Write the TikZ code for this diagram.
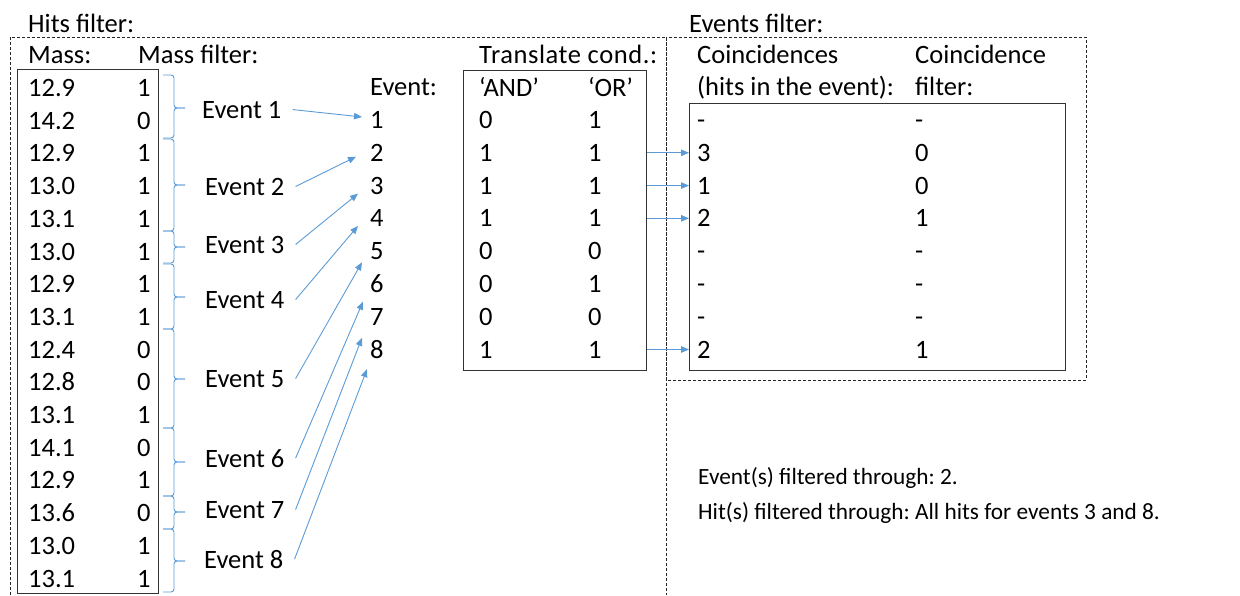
\documentclass[tikz,border=0pt]{standalone}
\usepackage{fontspec}
\setmainfont{Carlito}
\usetikzlibrary{arrows.meta}
\definecolor{linkblue}{RGB}{91,155,213}
\frenchspacing
\begin{document}
\begin{tikzpicture}[x=1pt,y=-1pt,
  txt/.style={anchor=base west,inner sep=0pt,font=\fontsize{26.5}{30}\selectfont},
  small/.style={txt,font=\fontsize{23.3}{27}\selectfont},
  box/.style={draw=black!80,line width=1.2pt,anchor=north west,inner sep=0pt},
  dashbox/.style={draw=black!85,line width=0.9pt,dash pattern=on 3pt off 2pt},
  link/.style={draw=linkblue,line width=0.9pt,-{Triangle[length=8pt,width=6.5pt]}},
  brc/.style={draw=linkblue,line width=0.9pt,rounded corners=3pt}]
\useasboundingbox (0,0) rectangle (1240,595);

% dashed frames of the two filter stages
\draw[dashbox] (10,595) -- (10,37) -- (666,37) -- (666,595);
\draw[dashbox] (666,37) rectangle (1086,380);

% headings
\node[txt] (hitsT) at (28,32) {Hits filter:};
\node[txt] (evfT) at (689,32) {Events filter:};
\node[txt] (massT) at (28,63) {Mass:};
\node[txt] (mfT) at (138,63) {Mass filter:};
\node[txt] (trT) at (479,63) {\addfontfeatures{LetterSpace=2.2}Translate cond.:};
\node[txt] (coT) at (697,63) {Coincidences};
\node[txt] (coT2) at (697,95) {(hits in the event):};
\node[txt] (cfT) at (915,63) {Coincidence};
\node[txt] (cfT2) at (915,95) {filter:};
\node[txt] (evT) at (370,95) {Event:};

% boxes
\node[box,minimum width=141pt,minimum height=524pt] (massbox) at (17,69) {};
\node[box,minimum width=183pt,minimum height=300pt] (tbox) at (463,70) {};
\node[box,minimum width=376pt,minimum height=267pt] (cbox) at (689,103) {};

% hits: mass and mass filter
\foreach \m/\f [count=\i] in {12.9/1,14.2/0,12.9/1,13.0/1,13.1/1,13.0/1,12.9/1,13.1/1,
                               12.4/0,12.8/0,13.1/1,14.1/0,12.9/1,13.6/0,13.0/1,13.1/1} {
  \node[txt] (m\i) at (28,{96.5+32.7*(\i-1)}) {\m};
  \node[txt] (f\i) at (137,{96.5+32.7*(\i-1)}) {\f};
}

% braces grouping hits into events
\foreach \t/\c/\b in {75/108/138,139/185/231,231/247/263,264/297/329,
                      329/379/428,428/462/496,496/512/529,529/561/592} {
  \draw[brc] (163,\t) -- (174,\t) -- (174,\c) -- (185,\c);
  \draw[brc] (163,\b) -- (174,\b) -- (174,\c) -- (185,\c);
}

% event labels
\foreach \i/\x/\y in {1/202/118,2/205/195,3/205/253,4/205/308,
                      5/205/387,6/205/467,7/205/518,8/204/568} {
  \node[txt] (ev\i) at (\x,\y) {Event \i};
}

% event numbers and translated conditions
\foreach \a/\o/\c/\cf [count=\i] in {0/1/-/-,1/1/3/0,1/1/1/0,1/1/2/1,
                                      0/0/-/-,0/1/-/-,0/0/-/-,1/1/2/1} {
  \node[txt] (n\i) at (370,{128.5+32.8*(\i-1)}) {\i};
  \node[txt] (and\i) at (479,{128.5+32.8*(\i-1)}) {\a};
  \node[txt] (or\i) at (588,{128.5+32.8*(\i-1)}) {\o};
  \node[txt] (co\i) at (697,{128.5+32.8*(\i-1)}) {\c};
  \node[txt] (cf\i) at (915,{128.5+32.8*(\i-1)}) {\cf};
}
\node[txt] (andT) at (479,96) {‘AND’};
\node[txt] (orT) at (588,96) {‘OR’};

% event label -> event number
\foreach \i/\dx/\dy in {1/-8/-3,2/-14/4,3/-12/8,4/-12/7.5,
                        5/-8/11,6/-7/18,7/-8/21,8/-3/20} {
  \draw[link] ([xshift=11pt]ev\i.east) -- ([shift={(\dx,\dy)}]n\i.west);
}

% translated events -> coincidence counts
\foreach \i in {2,3,4,8} {
  \draw[link] (tbox.east |- co\i) -- (cbox.west |- co\i);
}

% result
\node[small] (res1) at (698,484) {Event(s) filtered through: 2.};
\node[small] (res2) at (698,519) {Hit(s) filtered through: All hits for events 3 and 8.};
\end{tikzpicture}
\end{document}
